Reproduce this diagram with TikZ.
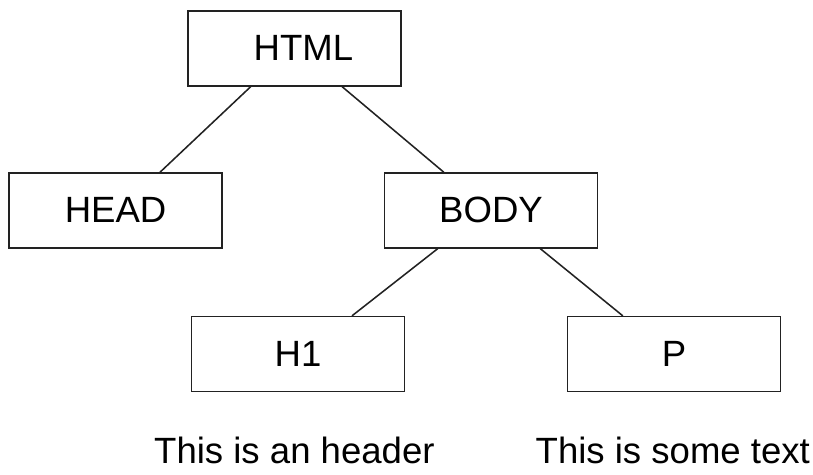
\documentclass[tikz,border=0pt]{standalone}
\usepackage{fontspec}
\setmainfont{Liberation Sans}
\usetikzlibrary{positioning}
\definecolor{domLine}{HTML}{222222}
\tikzset{
  tagbox/.style={rectangle, draw=domLine, line width=1.1pt, fill=white,
    minimum width=5.33cm, minimum height=1.87cm, inner sep=0pt,
    font=\fontsize{26}{31}\selectfont},
  tagedge/.style={draw=domLine, line width=1.1pt},
  leaftext/.style={font=\fontsize{26}{31}\selectfont, inner sep=0pt}
}
\begin{document}
\begin{tikzpicture}
  \useasboundingbox (0,0) rectangle (20.325,-11.85);
  % tree of tags
  \node[tagbox] (html) at (7.36,-1.21) {\hspace{0.45cm}HTML};
  \node[tagbox] (head) at (2.89,-5.26) {HEAD};
  \node[tagbox] (body) at (12.275,-5.26) {BODY};
  \node[tagbox] (h1) at (7.45,-8.85) {H1};
  \node[tagbox] (p) at (16.85,-8.85) {P};
  % contents
  \node[leaftext] (h1txt) at (7.36,-11.25) {This is an header};
  \node[leaftext] (ptxt) at (16.82,-11.25) {This is some text};
  % edges
  \draw[tagedge] ([xshift=-1.09cm]html.south) -- ([xshift=1.11cm]head.north);
  \draw[tagedge] ([xshift=1.19cm]html.south) -- ([xshift=-1.18cm]body.north);
  \draw[tagedge] ([xshift=-1.33cm]body.south) -- ([xshift=1.35cm]h1.north);
  \draw[tagedge] ([xshift=1.23cm]body.south) -- ([xshift=-1.28cm]p.north);
\end{tikzpicture}
\end{document}
